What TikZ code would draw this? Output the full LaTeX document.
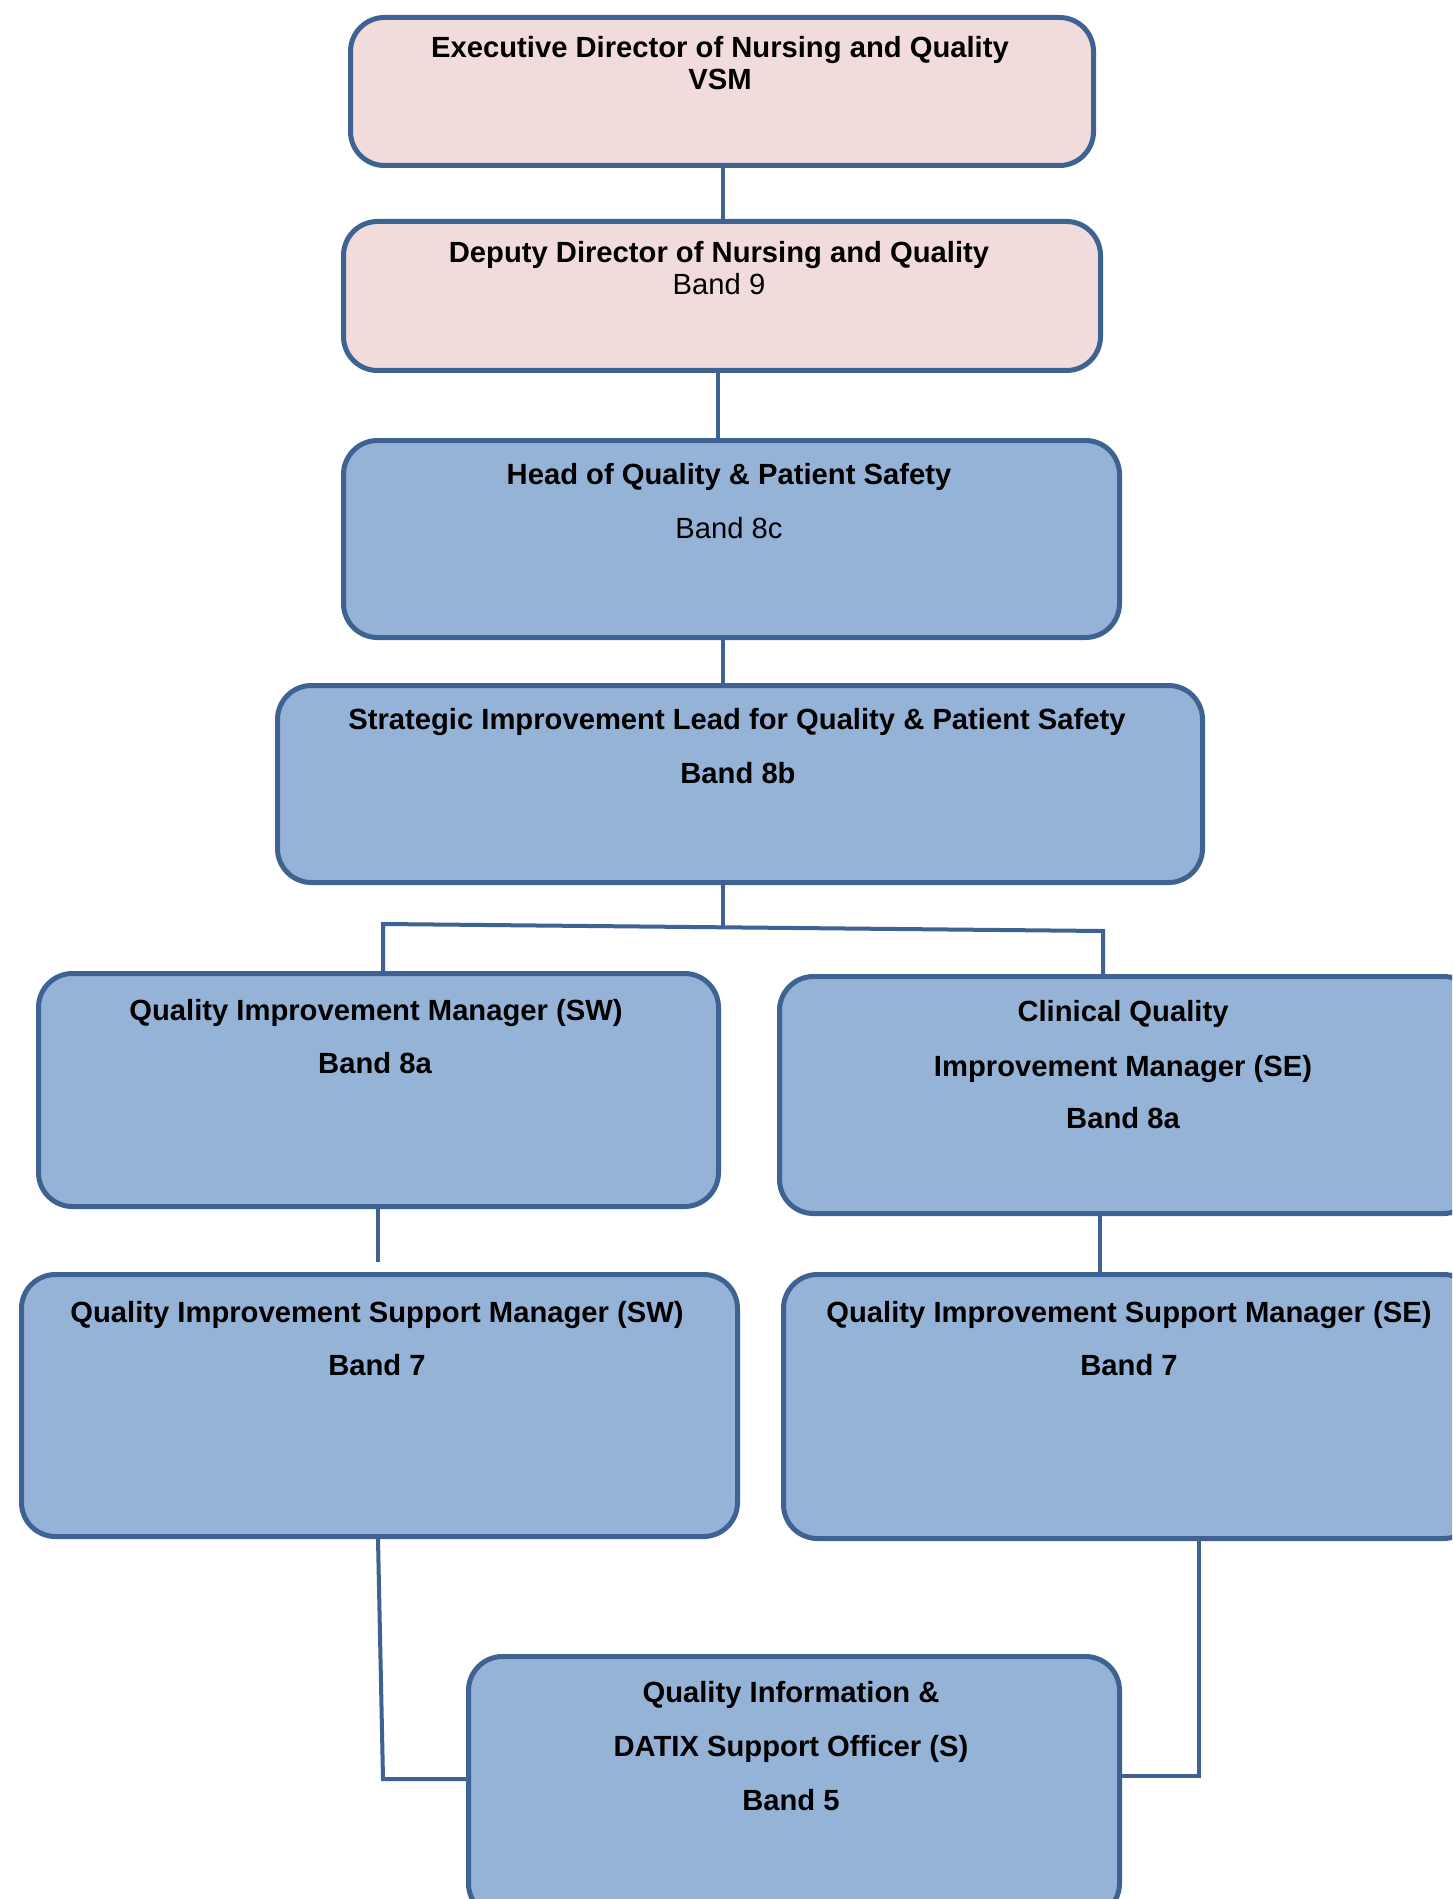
\documentclass[tikz,border=0pt]{standalone}
\usepackage{fontspec}
\setmainfont{Liberation Sans}
\usetikzlibrary{calc}
\definecolor{edgeblue}{RGB}{62,98,145}
\definecolor{bluefill}{RGB}{149,179,215}
\definecolor{pinkfill}{RGB}{242,220,219}
\begin{document}
\begin{tikzpicture}[x=0.5pt,y=-0.5pt,
  box/.style={draw=edgeblue, line width=2.5pt, rounded corners=17pt, anchor=north west, inner sep=0pt},
  pinkbox/.style={box, fill=pinkfill},
  bluebox/.style={box, fill=bluefill},
  conn/.style={draw=edgeblue, line width=2pt},
  lbl/.style={font=\fontsize{14.6}{17}\selectfont\bfseries, anchor=base, inner sep=0pt},
  lbln/.style={font=\fontsize{14.6}{17}\selectfont, anchor=base, inner sep=0pt}]
\useasboundingbox (0,0) rectangle (1452,1899);
\clip (0,0) rectangle (1452,1899);
\fill[white] (0,0) rectangle (1452,1899);

% boxes
\node[pinkbox, minimum width=371.5pt, minimum height=74pt] (exec) at (348,15) {};
\node[pinkbox, minimum width=378.5pt, minimum height=74.5pt] (deputy) at (341,219) {};
\node[bluebox, minimum width=388pt, minimum height=98.5pt] (head) at (341,438) {};
\node[bluebox, minimum width=462.5pt, minimum height=98.5pt] (strat) at (275,683) {};
\node[bluebox, minimum width=340pt, minimum height=116.5pt] (qimsw) at (36,971) {};
\node[bluebox, minimum width=349pt, minimum height=118.5pt] (qimse) at (777,974) {};
\node[bluebox, minimum width=358pt, minimum height=131pt] (qisw) at (19,1272) {};
\node[bluebox, minimum width=347pt, minimum height=132pt] (qise) at (781,1272) {};
\node[bluebox, minimum width=325.5pt, minimum height=130.5pt] (qinfo) at (466,1654) {};

% texts
\node[lbl] (t1a) at (720,58) {Executive Director of Nursing and Quality};
\node[lbl] (t1b) at (720,90) {VSM};
\node[lbl] (t2a) at (719,263) {Deputy Director of Nursing and Quality};
\node[lbln] (t2b) at (719,295) {Band 9};
\node[lbl] (t3a) at (729,484) {Head of Quality \& Patient Safety};
\node[lbln] (t3b) at (729,538) {Band 8c};
\node[lbl] (t4a) at (737,729) {Strategic Improvement Lead for Quality \& Patient Safety};
\node[lbl] (t4b) at (738,783) {Band 8b};
\node[lbl] (t5a) at (376,1020) {Quality Improvement Manager (SW)};
\node[lbl] (t5b) at (375,1073) {Band 8a};
\node[lbl] (t6a) at (1123,1021) {Clinical Quality};
\node[lbl] (t6b) at (1123,1076) {Improvement Manager (SE)};
\node[lbl] (t6c) at (1123,1128) {Band 8a};
\node[lbl] (t7a) at (377,1322) {Quality Improvement Support Manager (SW)};
\node[lbl] (t7b) at (377,1375) {Band 7};
\node[lbl] (t8a) at (1129,1322) {Quality Improvement Support Manager (SE)};
\node[lbl] (t8b) at (1129,1375) {Band 7};
\node[lbl] (t9a) at (791,1702) {Quality Information \&};
\node[lbl] (t9b) at (791,1756) {DATIX Support Officer (S)};
\node[lbl] (t9c) at (791,1810) {Band 5};

% junction coordinates
\coordinate (xa) at (723,0);
\coordinate (xb) at (718,0);
\coordinate (jm) at (723,927);
\coordinate (jl) at (383,924);
\coordinate (jr) at (1103,931);
\coordinate (se) at (1100,0);
\coordinate (swend) at (378,1262);
\coordinate (bl) at (383,1779);
\coordinate (br) at (1199,1776);

% connectors
\draw[conn] (xa |- exec.south) -- (xa |- deputy.north);
\draw[conn] (xb |- deputy.south) -- (xb |- head.north);
\draw[conn] (xa |- head.south) -- (xa |- strat.north);
\draw[conn] (xa |- strat.south) -- (jm);
\draw[conn] (jl |- qimsw.north) -- (jl) -- (jr) -- (jr |- qimse.north);
\draw[conn] (swend |- qimsw.south) -- (swend);
\draw[conn] (se |- qimse.south) -- (se |- qise.north);
\draw[conn] (qisw.south -| swend) -- (bl) -- (qinfo.west |- bl);
\draw[conn] (qise.south -| br) -- (br) -- (qinfo.east |- br);
\end{tikzpicture}
\end{document}
